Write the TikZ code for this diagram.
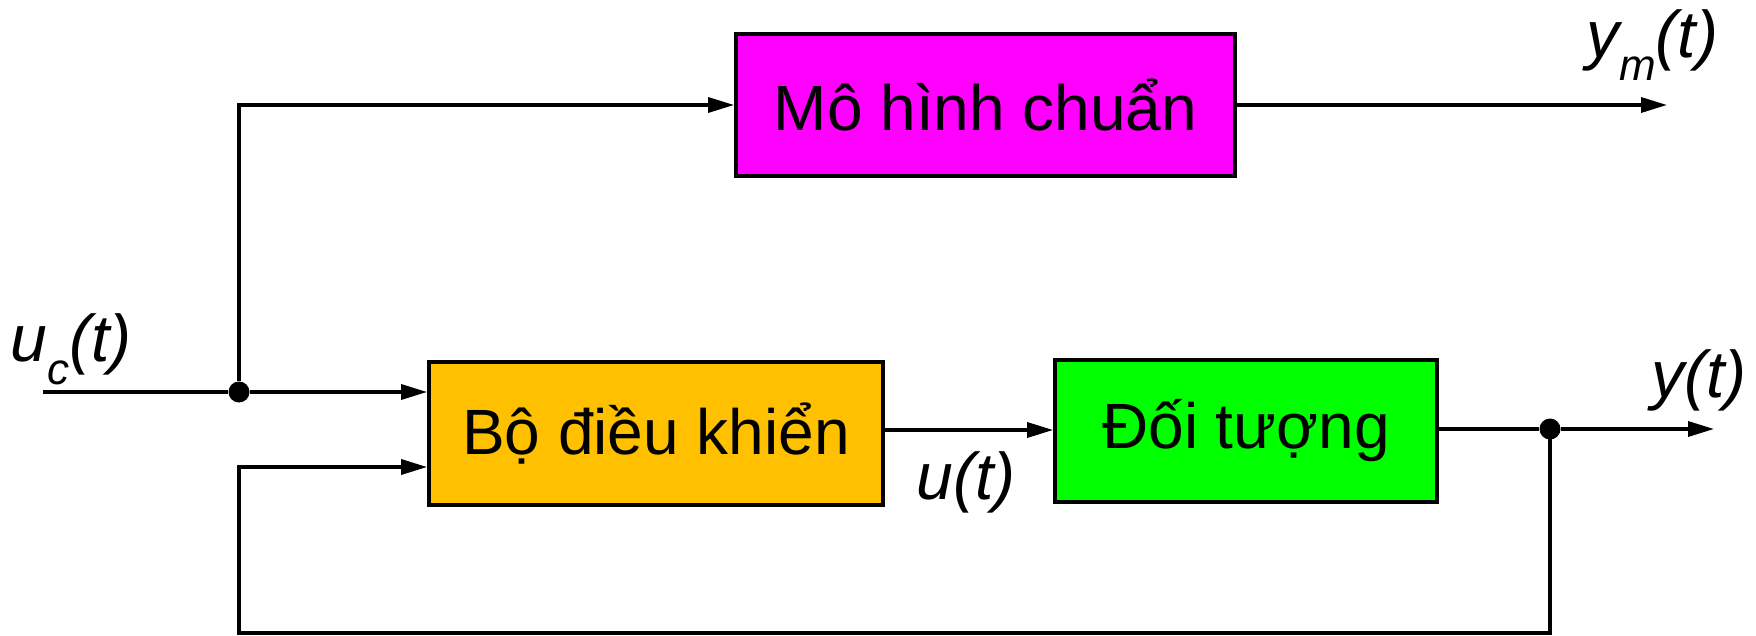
\documentclass[tikz,border=0pt]{standalone}
\usepackage{fontspec}
\setmainfont{Liberation Sans}
\usetikzlibrary{arrows.meta}
\definecolor{boxmagenta}{HTML}{FF00FF}
\definecolor{boxorange}{HTML}{FFC000}
\definecolor{boxgreen}{HTML}{00FF00}
\newcommand{\sig}[2]{{\itshape #1\raisebox{-0.35em}{\fontsize{44}{44}\selectfont #2}(t)}}
\begin{document}
\begin{tikzpicture}[x=1pt,y=-1pt,
  block/.style={draw=black,line width=3.8pt,minimum width=#1,minimum height=140pt,
    inner sep=0pt,font=\fontsize{64}{70}\selectfont},
  wire/.style={line width=3.4pt},
  arr/.style={wire,-{Triangle[length=26pt,width=15pt]}},
  dot/.style={circle,fill=black,inner sep=0pt,minimum size=21pt},
  lbl/.style={font=\fontsize{66}{72}\selectfont,inner sep=0pt}]
\useasboundingbox (0,0) rectangle (1756,636);
% blocks
\node[block=499pt,fill=boxmagenta,minimum height=142pt] (ref) at (985.5,105) {Mô hình chuẩn};
\node[block=454pt,fill=boxorange,minimum height=143pt] (ctl) at (656,433.5) {Bộ điều khiển};
\node[block=382pt,fill=boxgreen,minimum height=142pt] (plant) at (1246,431) {Đối tượng};
% junctions and free ends
\node[dot] (j1) at (239,392) {};
\node[dot] (j2) at (1550,429) {};
\coordinate (in) at (43,392);
\coordinate (ymout) at (1667,105);
\coordinate (yout) at (1714,429);
\coordinate (fb) at (1550,633);
% connectors
\draw[wire] (in) -- (j1);
\draw[arr] (j1) -- (ctl.west |- j1);
\draw[arr] (j1) |- (ref.west);
\draw[arr] (ref.east) -- (ymout);
\draw[arr] (ctl.east |- 0,430) -- (plant.west |- 0,430);
\draw[wire] (plant.east |- j2) -- (j2);
\draw[arr] (j2) -- (yout);
\draw[arr] (j2.center) -- (fb) -| (239,467) -- (ctl.west |- 0,467);
% labels
\node[lbl] (luc) at (71,349) {\sig{u}{c}};
\node[lbl] (lym) at (1652,45) {\sig{y}{m}};
\node[lbl] (lu) at (966,487) {\sig{u}{}};
\node[lbl] (ly) at (1699,385) {\sig{y}{}};
\end{tikzpicture}
\end{document}
